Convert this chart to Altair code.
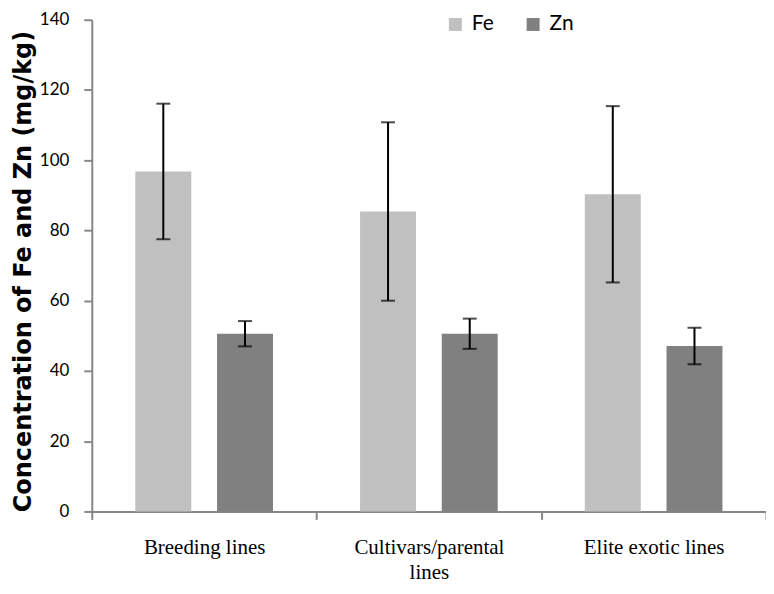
import altair as alt
import pandas as pd

categories = ["Breeding lines", "Cultivars/parental lines", "Elite exotic lines"]
elements = ["Fe", "Zn"]
fe_mean = [96.8, 85.4, 90.3]
fe_err = [19.3, 25.4, 25.1]
zn_mean = [50.6, 50.6, 47.1]
zn_err = [3.6, 4.3, 5.2]
y_ticks = [0, 20, 40, 60, 80, 100, 120, 140]

rows = []
for i, c in enumerate(categories):
    rows.append({"category": c, "element": "Fe", "mean": fe_mean[i],
                 "lo": fe_mean[i] - fe_err[i], "hi": fe_mean[i] + fe_err[i]})
    rows.append({"category": c, "element": "Zn", "mean": zn_mean[i],
                 "lo": zn_mean[i] - zn_err[i], "hi": zn_mean[i] + zn_err[i]})
df = pd.DataFrame(rows)

axis_gray = "#878787"

x_enc = alt.X(
    "category:N", sort=categories,
    scale=alt.Scale(paddingInner=0, paddingOuter=0),
    axis=alt.Axis(
        title=None, labelAngle=0, tickBand="extent",
        labelFont="Liberation Serif", labelFontSize=21, labelColor="black",
        labelPadding=17, labelLineHeight=25,
        labelExpr="datum.label == 'Cultivars/parental lines' ? ['Cultivars/parental', 'lines'] : datum.label",
        domainColor=axis_gray, domainWidth=2, tickColor=axis_gray, tickWidth=2, tickSize=8,
    ),
)
xoff_enc = alt.XOffset("element:N", sort=elements,
                       scale=alt.Scale(paddingInner=0.315, paddingOuter=0.533))

y_scale = alt.Scale(domain=[0, 140], nice=False)

base = alt.Chart(df).encode(x=x_enc, xOffset=xoff_enc)

bars = base.mark_bar().encode(
    y=alt.Y("mean:Q", scale=y_scale,
            axis=alt.Axis(
                title="Concentration of Fe and Zn (mg/kg)", values=y_ticks, grid=False,
                titleFont="DejaVu Sans", titleFontSize=24, titleFontWeight="bold",
                titleColor="black", titleAngle=270, titleX=-68, titleY=252,
                titleAlign="center", titleBaseline="middle",
                labelFont="Lato", labelFontSize=17, labelColor="black", labelPadding=15,
                domainColor=axis_gray, domainWidth=2, tickColor=axis_gray, tickWidth=2, tickSize=8,
            )),
    color=alt.Color("element:N",
                    scale=alt.Scale(domain=elements, range=["#c0c0c0", "#808080"]),
                    legend=alt.Legend(
                        title=None, orient="none", legendX=354, legendY=-6,
                        direction="horizontal", symbolType="square", symbolSize=169,
                        symbolStrokeWidth=0, labelFont="Lato", labelFontSize=21,
                        labelColor="black", labelOffset=6, columnPadding=28, padding=0,
                    )),
)

rules = base.mark_rule(color="black", strokeWidth=2).encode(
    y=alt.Y("lo:Q", scale=y_scale), y2="hi:Q")
cap_hi = base.mark_tick(color="black", thickness=2, size=14).encode(
    y=alt.Y("hi:Q", scale=y_scale))
cap_lo = base.mark_tick(color="black", thickness=2, size=14).encode(
    y=alt.Y("lo:Q", scale=y_scale))

chart = alt.layer(bars, rules, cap_hi, cap_lo).properties(
    width=676, height=493,
    autosize=alt.AutoSizeParams(type="none"),
    padding={"left": 84, "top": 11, "right": 0, "bottom": 74},
).configure_view(stroke=None)

chart.save("out.html", embed_options={"renderer": "svg", "actions": False})
